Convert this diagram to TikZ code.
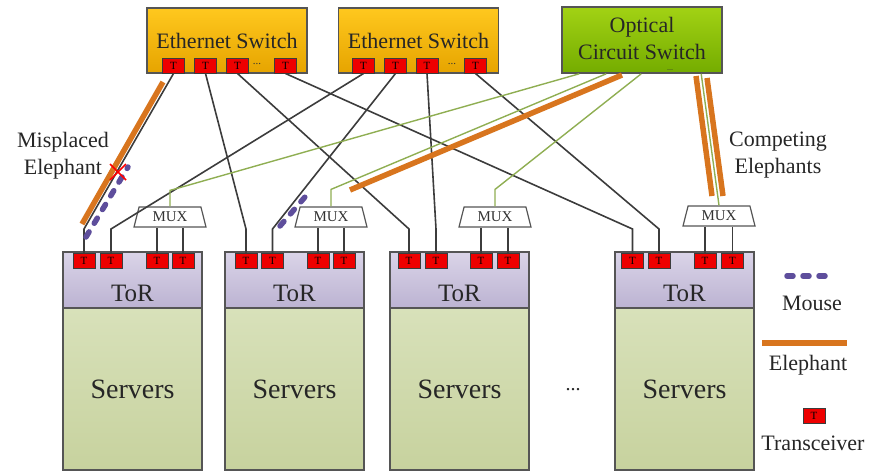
\documentclass[tikz,border=0pt]{standalone}
\usepackage{fontspec}
\setmainfont{Liberation Serif}
\usetikzlibrary{shapes.geometric}

\definecolor{esTop}{HTML}{FFC81E}
\definecolor{esBot}{HTML}{E6A400}
\definecolor{ocsTop}{HTML}{A2D214}
\definecolor{ocsBot}{HTML}{74AC00}
\definecolor{torTop}{HTML}{DAD4E8}
\definecolor{torBot}{HTML}{BCB3D2}
\definecolor{srvTop}{HTML}{D8E1BA}
\definecolor{srvBot}{HTML}{C7D29E}
\definecolor{edgeC}{HTML}{555555}
\definecolor{wireC}{HTML}{3C3C3C}
\definecolor{opticC}{HTML}{8FAE52}
\definecolor{elephC}{HTML}{D8751E}
\definecolor{mouseC}{HTML}{5E4E9C}
\definecolor{trxC}{HTML}{EE0000}

\begin{document}
\begin{tikzpicture}[x=1pt,y=-1pt,
  switchbox/.style={rectangle, draw=edgeC, line width=1.6pt, inner sep=0pt},
  ethsw/.style={switchbox, top color=esTop, bottom color=esBot,
                minimum width=160pt, minimum height=65pt},
  ocsw/.style={switchbox, top color=ocsTop, bottom color=ocsBot,
               minimum width=160pt, minimum height=66pt},
  trx/.style={rectangle, draw=edgeC!70!black, line width=1pt, fill=trxC,
              minimum width=22pt, minimum height=15pt, inner sep=0pt,
              font=\fontsize{11}{11}\selectfont},
  torbox/.style={rectangle, draw=edgeC, line width=1.6pt, top color=torTop,
                 bottom color=torBot, minimum width=139pt, minimum height=56pt,
                 inner sep=0pt},
  srvbox/.style={rectangle, draw=edgeC, line width=1.6pt, top color=srvTop,
                 bottom color=srvBot, minimum width=139pt, minimum height=162pt,
                 inner sep=0pt, font=\fontsize{28}{30}\selectfont, text=black!85},
  muxbox/.style={trapezium, trapezium left angle=63, trapezium right angle=63,
                 trapezium stretches body, draw=edgeC, line width=1.2pt,
                 fill=white, minimum width=72pt, minimum height=20pt,
                 inner sep=0pt, font=\fontsize{15}{15}\selectfont, text=black!80},
  wirelink/.style={draw=wireC, line width=1.6pt},
  opticlink/.style={draw=opticC, line width=1.4pt},
  elephant/.style={draw=elephC, line width=5.5pt},
  mouseflow/.style={draw=mouseC, line width=5.5pt, line cap=round,
                    dash pattern=on 6pt off 10pt},
  caption/.style={font=\fontsize{22}{27}\selectfont, text=black!85, align=center},
  dots/.style={font=\fontsize{11}{11}\selectfont, text=black!80, inner sep=0pt}
]
\useasboundingbox (0,0) rectangle (875,472);

% ---------- core switches ----------
\node[ethsw] (es1) at (227,40.5) {};
\node[caption] (es1txt) at (227,41) {Ethernet Switch};
\node[ethsw] (es2) at (418.5,40.5) {};
\node[caption] (es2txt) at (418.5,41) {Ethernet Switch};
\node[ocsw] (ocs) at (642,40) {};
\node[caption, inner sep=0pt] (ocstxt) at (642,38.5) {Optical\\Circuit Switch};
\node[dots, font=\fontsize{8}{8}\selectfont] (ocsdots) at (670,70) {...};

\foreach \x/\n in {173.5/1,205.5/2,237.5/3,285.5/4}
  \node[trx] (e1t\n) at (\x,65.5) {T};
\node[dots] (e1dots) at (257,64) {...};
\foreach \x/\n in {363.5/1,395.5/2,427/3,475.5/4}
  \node[trx] (e2t\n) at (\x,65.5) {T};
\node[dots] (e2dots) at (452,64) {...};

% ---------- racks: ToR + servers ----------
\foreach \i/\l in {1/63,2/225,3/390,4/615}{
  \node[torbox] (tor\i) at (\l+69.5,280) {};
  \node[caption, font=\fontsize{25}{27}\selectfont] (tortxt\i) at (\l+69.5,293) {ToR};
  \node[srvbox] (srv\i) at (\l+69.5,389) {Servers};
}
\node[caption, font=\fontsize{20}{20}\selectfont] (rackdots) at (573,390) {...};

\foreach \x/\n in {84/1,111/2,157/3,183/4}       \node[trx] (r1t\n) at (\x,261) {T};
\foreach \x/\n in {246/1,272.5/2,318/3,344/4}    \node[trx] (r2t\n) at (\x,261) {T};
\foreach \x/\n in {409/1,436/2,481/3,508/4}      \node[trx] (r3t\n) at (\x,261) {T};
\foreach \x/\n in {632.5/1,659/2,705/3,732.5/4}  \node[trx] (r4t\n) at (\x,261) {T};

% ---------- multiplexers ----------
\node[muxbox] (mux1) at (170,217) {MUX};
\node[muxbox] (mux2) at (331,217) {MUX};
\node[muxbox] (mux3) at (495,217) {MUX};
\node[muxbox] (mux4) at (719,216) {MUX};

\foreach \r/\m in {1/1,2/2,3/3,4/4}{
  \draw[wirelink] (r\r t3.north) -- (r\r t3.north |- mux\m.south);
  \draw[wirelink] (r\r t4.north) -- (r\r t4.north |- mux\m.south);
}

% ---------- electrical links ----------
\foreach \r in {1,2,3,4}{
  \draw[wirelink] (r\r t1.north) -- ++(0,-24) -- (e1t\r.south);
  \draw[wirelink] (r\r t2.north) -- ++(0,-24) -- (e2t\r.south);
}

% ---------- optical links ----------
\draw[opticlink] (mux1.north) -- ++(0,-16) -- ([xshift=18pt]ocs.south west);
\draw[opticlink] (mux2.north) -- ++(0,-17) -- ([xshift=45pt]ocs.south west);
\draw[opticlink] (mux3.north) -- ++(0,-17) -- ([xshift=80pt]ocs.south west);

% ---------- flows ----------
\coordinate (misA) at (82,224);   \coordinate (misB) at (163,82);
\coordinate (mouA) at (86,237);   \coordinate (mouB) at (128,167);
\coordinate (optA) at (350,190);  \coordinate (optB) at (622,75);
\coordinate (cmpA) at (696,76);   \coordinate (cmpB) at (712,196);
\coordinate (cmpC) at (707,78);   \coordinate (cmpD) at (723,196);
\coordinate (mo2A) at (280,226);  \coordinate (mo2B) at (311,190);
\coordinate (cross) at (118,172);

\draw[elephant] (misA) -- (misB);
\draw[mouseflow] (mouA) -- (mouB);
\draw[red, line width=1.5pt] ([shift={(-8,-8)}]cross) -- ([shift={(8,8)}]cross)
                             ([shift={(-8,8)}]cross) -- ([shift={(8,-8)}]cross);
\draw[elephant] (optA) -- (optB);
\draw[elephant] (cmpA) -- (cmpB);
\draw[elephant] (cmpC) -- (cmpD);
\draw[opticlink] ([xshift=140pt]ocs.south west) -- (mux4.north);
\draw[mouseflow] (mo2A) -- (mo2B);

\node[caption] (mislbl) at (63,156) {Misplaced\\Elephant};
\node[caption] (cmplbl) at (778,155.5) {Competing\\Elephants};

% ---------- legend ----------
\coordinate (lgMa) at (787,276); \coordinate (lgMb) at (833,276);
\draw[mouseflow] (lgMa) -- (lgMb);
\node[caption] (lgMouse) at (812,303) {Mouse};
\coordinate (lgEa) at (762,343); \coordinate (lgEb) at (847,343);
\draw[elephant] (lgEa) -- (lgEb);
\node[caption] (lgEleph) at (808,365) {Elephant};
\node[trx] (lgTrx) at (814,415.5) {T};
\node[caption] (lgTrxTxt) at (813,443) {Transceiver};
\end{tikzpicture}
\end{document}
